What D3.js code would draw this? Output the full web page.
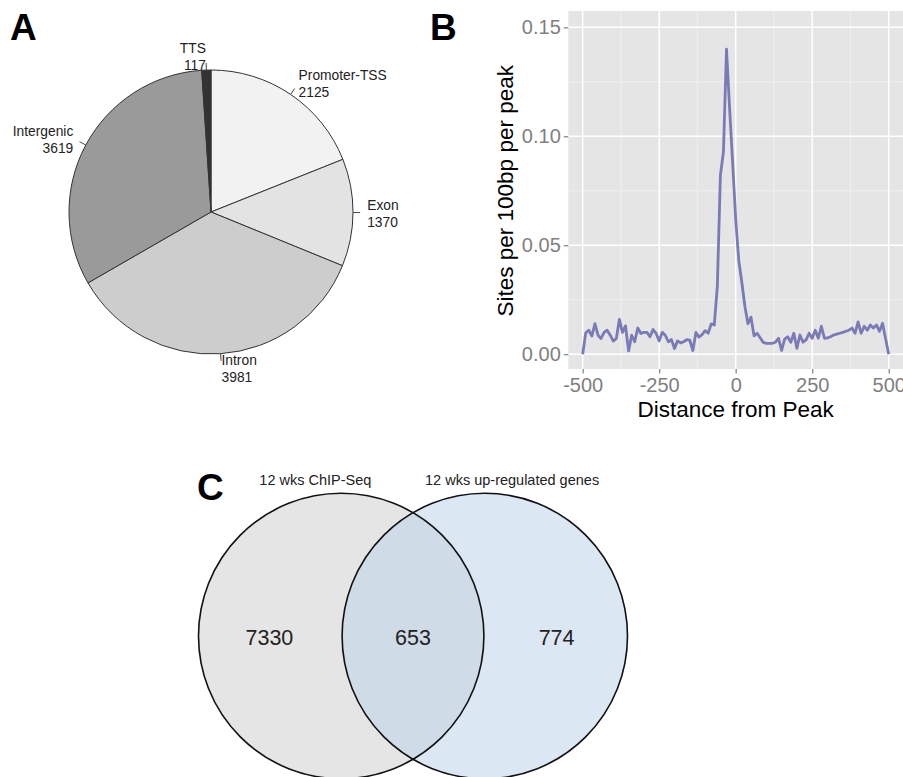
<!DOCTYPE html>
<html>
<head>
<meta charset="utf-8">
<script src="https://cdn.jsdelivr.net/npm/d3@7"></script>
<style>
  body { margin: 0; background: #fff; }
  text { font-family: "Liberation Sans", Arial, Helvetica, sans-serif; }
</style>
</head>
<body>
<div id="fig"></div>
<script>
var width = 903;
var height = 777;

// panel A: genomic annotation of peaks
var annotNames = ["Promoter-TSS", "Exon", "Intron", "Intergenic", "TTS"];
var annotCounts = [2125, 1370, 3981, 3619, 117];
var annotFills = ["#f2f2f2", "#e3e3e3", "#cdcdcd", "#9a9a9a", "#333333"];

// panel B: motif sites around peak summit (10bp steps, -500..500)
var distance = d3.range(-500, 501, 10);
var sitesPerPeak = [
  0.000, 0.0098, 0.011, 0.0083, 0.014, 0.0087, 0.0072, 0.010, 0.011, 0.0087,
  0.0060, 0.0072, 0.016, 0.010, 0.013, 0.0015, 0.0087, 0.0057, 0.012, 0.0095,
  0.010, 0.010, 0.008, 0.0113, 0.0095, 0.0061, 0.010, 0.0087, 0.0057, 0.0067,
  0.0026, 0.0061, 0.0052, 0.0057, 0.0067, 0.0064, 0.0017, 0.010, 0.0078, 0.009,
  0.0108, 0.0096, 0.0139, 0.0134, 0.031, 0.082, 0.093, 0.140, 0.113, 0.088,
  0.062, 0.043, 0.033, 0.022, 0.014, 0.017, 0.0084, 0.0096, 0.0075, 0.0054,
  0.005, 0.005, 0.005, 0.0055, 0.0073, 0.0017, 0.0069, 0.008, 0.0055, 0.0096,
  0.0027, 0.0088, 0.0055, 0.0066, 0.0096, 0.0073, 0.011, 0.0073, 0.0128, 0.0073,
  0.0075, 0.008, 0.0088, 0.0092, 0.0096, 0.010, 0.0105, 0.011, 0.012, 0.0096,
  0.0148, 0.0096, 0.0128, 0.011, 0.0134, 0.012, 0.0134, 0.0105, 0.0142, 0.007,
  0.000
];
var xTicks = [-500, -250, 0, 250, 500];
var xMinor = [-375, -125, 125, 375];
var yTicks = [0, 0.05, 0.10, 0.15];
var yMinor = [0.025, 0.075, 0.125];

// panel C: overlap
var vennSets = ["12 wks ChIP-Seq", "12 wks up-regulated genes"];
var vennCounts = [7330, 653, 774];

var svg = d3.select("#fig").append("svg")
  .attr("width", width)
  .attr("height", height);
svg.append("rect").attr("width", width).attr("height", height).attr("fill", "#fff");

// panel letters
var letters = [["A", 10, 40], ["B", 430, 40], ["C", 197, 500]];
svg.selectAll("text.letter").data(letters).enter().append("text")
  .attr("class", "letter")
  .attr("x", function(d) { return d[1]; })
  .attr("y", function(d) { return d[2]; })
  .attr("font-size", 37)
  .attr("font-weight", "bold")
  .text(function(d) { return d[0]; });

// ---------- A: pie ----------
var pieR = 142;
var pieG = svg.append("g").attr("transform", "translate(211,212)");
var pie = d3.pie().sort(null).value(function(d) { return d; });
var arcs = pie(annotCounts);
var arc = d3.arc().innerRadius(0).outerRadius(pieR);

pieG.selectAll("path").data(arcs).enter().append("path")
  .attr("d", arc)
  .attr("fill", function(d, i) { return annotFills[i]; })
  .attr("stroke", "#333")
  .attr("stroke-width", 1);

arcs.forEach(function(a, i) {
  var mid = (a.startAngle + a.endAngle) / 2;
  var sx = Math.sin(mid), sy = -Math.cos(mid);
  pieG.append("line")
    .attr("x1", sx * pieR).attr("y1", sy * pieR)
    .attr("x2", sx * pieR * 1.05).attr("y2", sy * pieR * 1.05)
    .attr("stroke", "#444").attr("stroke-width", 1);
  var lx = sx * pieR * 1.1, ly = sy * pieR * 1.1;
  var t = pieG.append("text")
    .attr("font-size", 13.8)
    .attr("fill", "#222")
    .attr("text-anchor", sx > 0 ? "start" : "end");
  t.append("tspan").attr("x", lx).attr("y", ly - 2.5).text(annotNames[i]);
  t.append("tspan").attr("x", lx).attr("y", ly + 14.5).text(annotCounts[i]);
});

// ---------- B: profile ----------
var x = d3.scaleLinear().domain([-547, 550]).range([568.3, 904]);
var y = d3.scaleLinear().domain([-0.0068, 0.1575]).range([369, 11]);
var gB = svg.append("g");

gB.append("rect")
  .attr("x", x.range()[0]).attr("y", y.range()[1])
  .attr("width", x.range()[1] - x.range()[0])
  .attr("height", y.range()[0] - y.range()[1])
  .attr("fill", "#e5e5e5");

gB.selectAll("line.xminor").data(xMinor).enter().append("line")
  .attr("x1", x).attr("x2", x)
  .attr("y1", y.range()[0]).attr("y2", y.range()[1])
  .attr("stroke", "#f2f2f2").attr("stroke-width", 0.8);
gB.selectAll("line.yminor").data(yMinor).enter().append("line")
  .attr("y1", y).attr("y2", y)
  .attr("x1", x.range()[0]).attr("x2", x.range()[1])
  .attr("stroke", "#f2f2f2").attr("stroke-width", 0.8);
gB.selectAll("line.xmajor").data(xTicks).enter().append("line")
  .attr("x1", x).attr("x2", x)
  .attr("y1", y.range()[0]).attr("y2", y.range()[1])
  .attr("stroke", "#fff").attr("stroke-width", 1.5);
gB.selectAll("line.ymajor").data(yTicks).enter().append("line")
  .attr("y1", y).attr("y2", y)
  .attr("x1", x.range()[0]).attr("x2", x.range()[1])
  .attr("stroke", "#fff").attr("stroke-width", 1.5);

var line = d3.line()
  .x(function(d, i) { return x(distance[i]); })
  .y(function(d) { return y(d); });
gB.append("path")
  .datum(sitesPerPeak)
  .attr("d", line)
  .attr("fill", "none")
  .attr("stroke", "#7a7ab6")
  .attr("stroke-width", 2.8)
  .attr("stroke-linejoin", "round");

// plain hyphen for negatives, like the original
var xAxis = d3.axisBottom(x).tickValues(xTicks).tickSize(4.5).tickPadding(3)
  .tickFormat(function(d) { return String(d); });
var yAxis = d3.axisLeft(y).tickValues(yTicks).tickSize(4.5).tickPadding(3)
  .tickFormat(d3.format(".2f"));
var gx = gB.append("g").attr("transform", "translate(0," + y.range()[0] + ")").call(xAxis);
var gy = gB.append("g").attr("transform", "translate(" + x.range()[0] + ",0)").call(yAxis);
[gx, gy].forEach(function(g) {
  g.select(".domain").remove();
  g.selectAll(".tick line").attr("stroke", "#7f7f7f").attr("stroke-width", 1.2);
  g.selectAll(".tick text").attr("fill", "#7f7f7f").attr("font-size", 20)
    .attr("font-family", "Liberation Sans, Arial, sans-serif");
});
gx.selectAll(".tick text").attr("dy", "0.75em");

gB.append("text")
  .attr("x", (x(-500) + x(500)) / 2).attr("y", 416.5)
  .attr("text-anchor", "middle").attr("font-size", 22.5)
  .text("Distance from Peak");
gB.append("text")
  .attr("transform", "translate(513," + ((y(0) + y(0.15)) / 2) + ") rotate(-90)")
  .attr("text-anchor", "middle").attr("font-size", 22.5)
  .text("Sites per 100bp per peak");

// ---------- C: venn ----------
var vennR = 142.7;
var vennY = 636;
var vennX = d3.scaleLinear().domain([0, 1]).range([341.2, 484.8]);
var vennFills = ["#e5e5e5", "#dce7f4"];
var gC = svg.append("g");

gC.append("clipPath").attr("id", "clipLeft")
  .append("circle").attr("cx", vennX(0)).attr("cy", vennY).attr("r", vennR);

gC.selectAll("circle.set").data(vennSets).enter().append("circle")
  .attr("class", "set")
  .attr("cx", function(d, i) { return vennX(i); })
  .attr("cy", vennY).attr("r", vennR)
  .attr("fill", function(d, i) { return vennFills[i]; });
gC.append("circle")
  .attr("cx", vennX(1)).attr("cy", vennY).attr("r", vennR)
  .attr("clip-path", "url(#clipLeft)")
  .attr("fill", "#cfdbe7");
gC.selectAll("circle.outline").data(vennSets).enter().append("circle")
  .attr("class", "outline")
  .attr("cx", function(d, i) { return vennX(i); })
  .attr("cy", vennY).attr("r", vennR)
  .attr("fill", "none").attr("stroke", "#111").attr("stroke-width", 1.6);

gC.selectAll("text.count").data(vennCounts).enter().append("text")
  .attr("class", "count")
  .attr("x", function(d, i) { return vennX(i - 0.5); })
  .attr("y", 645)
  .attr("text-anchor", "middle").attr("font-size", 21.5).attr("fill", "#222")
  .text(function(d) { return d; });

var setLabelPos = [-0.18, 1.19];
gC.selectAll("text.setname").data(vennSets).enter().append("text")
  .attr("class", "setname")
  .attr("x", function(d, i) { return vennX(setLabelPos[i]); })
  .attr("y", 485)
  .attr("text-anchor", "middle").attr("font-size", 14.5).attr("fill", "#222")
  .text(function(d) { return d; });
</script>
</body>
</html>
